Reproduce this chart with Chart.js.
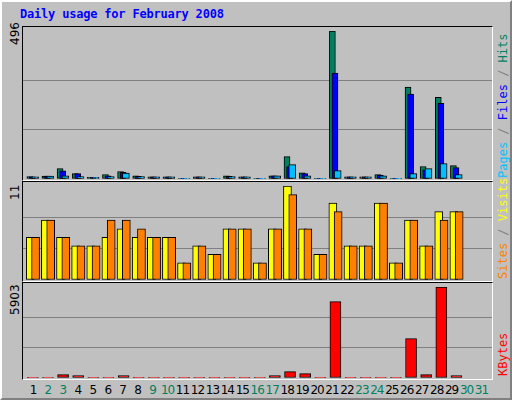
<!DOCTYPE html>
<html><head><meta charset="utf-8">
<script src="https://cdn.jsdelivr.net/npm/chart.js@4/dist/chart.umd.min.js"></script>
<style>
body{margin:0;background:#c0c0c0}
#wrap{position:absolute;left:0;top:0;width:508px;height:396px;background:#c0c0c0;border-left:2px solid #fff;border-top:2px solid #fff;border-right:2px solid #808080;border-bottom:2px solid #808080}
.panel{position:absolute;left:20px;width:469px;background:#c0c0c0;border-left:1px solid #000;border-top:1px solid #000;border-right:1px solid #fff;border-bottom:1px solid #fff}
canvas{position:absolute;left:0;top:0}
.t{position:absolute;font-family:"DejaVu Sans Mono",monospace;white-space:nowrap}
.rot{transform-origin:0 0;transform:rotate(-90deg)}
.day{position:absolute;top:381px;width:16px;text-align:center;font-family:"DejaVu Sans",sans-serif;font-size:12px;letter-spacing:-1px}
</style></head><body>
<div id="wrap"></div>
<script>
const days=[1,2,3,4,5,6,7,8,9,10,11,12,13,14,15,16,17,18,19,20,21,22,23,24,25,26,27,28,29,30,31];
const hits =[8,10,35,18,6,15,25,11,7,7,2,7,2,11,7,2,11,75,21,2,496,7,7,15,2,308,42,274,45,0,0];
const files=[7,10,27,18,6,11,22,9,7,7,2,7,2,9,7,2,11,42,18,2,355,7,7,13,2,285,31,254,38,0,0];
const pages=[7,10,11,8,6,8,20,8,7,7,2,7,2,8,7,2,11,48,11,2,28,7,7,11,2,18,35,52,15,0,0];
const visits=[5,7,5,4,4,5,6,5,5,5,2,4,3,6,6,2,6,11,6,3,9,4,4,9,2,7,4,8,8,0,0];
const sites =[5,7,5,4,4,7,7,6,5,5,2,4,3,6,6,2,6,10,6,3,8,4,4,9,2,7,4,7,8,0,0];
const kbytes=[40,40,216,150,40,40,150,40,40,40,40,40,40,40,40,40,150,410,280,40,4951,40,40,40,40,2551,216,5903,150,0,0];
const weekend=[2,3,9,10,16,17,23,24,30,31];
const maxTop=496,maxMid=11,maxBot=5903;

const wrap=document.getElementById('wrap');
function el(cls,css,html){const d=document.createElement('div');d.className=cls;d.style.cssText=css;d.innerHTML=html;wrap.appendChild(d);return d;}
el('t','left:18px;top:5px;font-size:12px;font-weight:bold;color:#0000ff;letter-spacing:-0.2px','Daily usage for February 2008');

function panel(top,h,max,sets){
  const p=el('panel',`top:${top}px;height:${h}px`,'');
  const c=document.createElement('canvas');c.width=469;c.height=h;c.style.width='469px';c.style.height=h+'px';p.appendChild(c);
  new Chart(c,{type:'bar',data:{datasets:sets.map(s=>({data:s.v.map((y,i)=>({x:days[i]+s.off,y:y})).filter(d=>d.y>0),backgroundColor:s.c,borderColor:'#000',borderWidth:1,borderSkipped:false,barThickness:s.w,order:s.o,grouped:false}))},
  options:{animation:false,responsive:false,devicePixelRatio:1,layout:{padding:{top:4,bottom:1}},plugins:{legend:{display:false},tooltip:{enabled:false}},
  scales:{x:{type:'linear',min:0.5,max:31.5,offset:false,display:false},
   y:{min:0,max:max,ticks:{display:false,stepSize:max/3},border:{display:false},grid:{drawTicks:false,color:ctx=>(ctx.index===1||ctx.index===2)?'#808080':'rgba(0,0,0,0)',lineWidth:1}}}}});
}
panel(24,153,maxTop,[{v:pages,c:'#00c0ff',off:0.3,w:7,o:0},{v:files,c:'#0000ff',off:0.12,w:6,o:1},{v:hits,c:'#008060',off:-0.05,w:6,o:2}]);
panel(179,99,maxMid,[{v:sites,c:'#ff8000',off:0.33,w:8,o:0},{v:visits,c:'#ffff00',off:-0.02,w:8,o:1}]);
panel(280,96,maxBot,[{v:kbytes,c:'#ff0000',off:0.15,w:11,o:0}]);

el('t rot','left:6px;top:43px;font-size:12px;font-family:DejaVu Sans,sans-serif','496');
el('t rot','left:6px;top:198px;font-size:12px;font-family:DejaVu Sans,sans-serif','11');
el('t rot','left:6px;top:313px;font-size:12px;font-family:DejaVu Sans,sans-serif','5903');
el('t rot','left:494px;top:176px;font-size:12px;color:#808080','<span style="color:#00c0ff">Pages</span> / <span style="color:#0000ff">Files</span> / <span style="color:#008060">Hits</span>');
el('t rot','left:494px;top:277px;font-size:12px;color:#808080','<span style="color:#ff8000">Sites</span> / <span style="color:#ffff00">Visits</span>');
el('t rot','left:494px;top:374px;font-size:12px;color:#ff0000','KBytes');
days.forEach((d,i)=>{el('day',`left:${23+i*14.95}px;color:${weekend.includes(d)?'#008060':'#000'}`,String(d));});
</script></body></html>
